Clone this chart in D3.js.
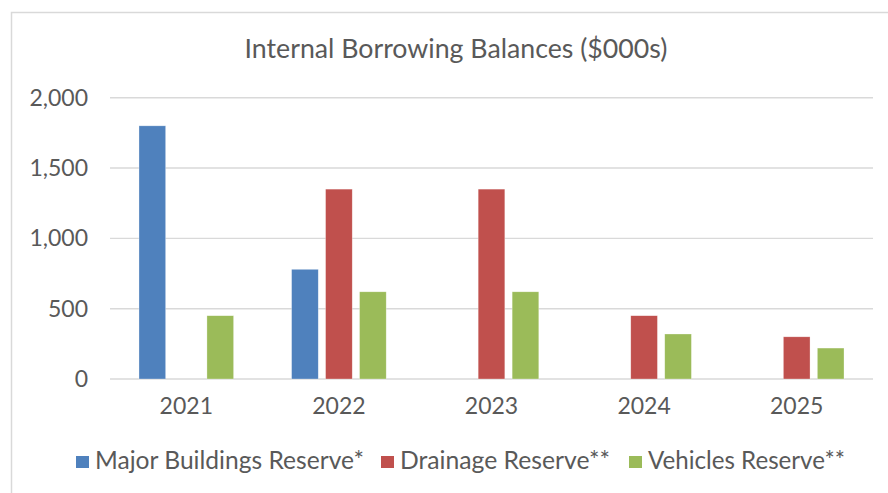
<!DOCTYPE html>
<html>
<head>
<meta charset="utf-8">
<script src="https://cdn.jsdelivr.net/npm/d3@7"></script>
<style>
  html, body { margin: 0; padding: 0; background: #fff; }
  svg { display: block; font-family: Lato, "Open Sans", sans-serif; }
</style>
</head>
<body>
<svg id="chart" width="888" height="493"></svg>
<script>
// Internal borrowing balances by year, in thousands of dollars
const years = ["2021", "2022", "2023", "2024", "2025"];
const seriesNames = ["Major Buildings Reserve*", "Drainage Reserve**", "Vehicles Reserve**"];
const majorBuildings = [1800, 780, 0, 0, 0];
const drainage = [0, 1350, 1350, 450, 300];
const vehicles = [450, 620, 620, 320, 220];
const yTicks = [0, 500, 1000, 1500, 2000];
const seriesColors = ["#4f81bd", "#c0504d", "#9bbb59"];

const seriesValues = [majorBuildings, drainage, vehicles];
const textColor = "#595959";
const gridColor = "#d9d9d9";

const svg = d3.select("#chart");

// Outer chart frame (extends past the right and bottom edges)
svg.append("rect")
  .attr("x", 11.5).attr("y", 12.5)
  .attr("width", 1000).attr("height", 1000)
  .attr("fill", "none").attr("stroke", gridColor).attr("stroke-width", 1.5);

const plot = { left: 110, right: 873, top: 97.7, bottom: 379 };

const x0 = d3.scaleBand().domain(years).range([plot.left, plot.right]).padding(0);
const y = d3.scaleLinear().domain([0, 2000]).range([plot.bottom, plot.top]);

// Bars in a group: width ~17.5% of the category band, gap between them
const groupWidth = x0.bandwidth() * 0.62;
const x1 = d3.scaleBand().domain(seriesNames).range([0, groupWidth]).paddingInner(0.215).paddingOuter(0);

// Gridlines
svg.append("g")
  .selectAll("line")
  .data(yTicks)
  .join("line")
  .attr("x1", plot.left).attr("x2", plot.right)
  .attr("y1", d => y(d)).attr("y2", d => y(d))
  .attr("stroke", gridColor).attr("stroke-width", 1.4);

// Y axis labels
const yAxis = d3.axisLeft(y).tickValues(yTicks).tickFormat(d3.format(",")).tickSize(0).tickPadding(0);
const yg = svg.append("g").attr("transform", `translate(88,0)`).call(yAxis);
yg.select(".domain").remove();
yg.selectAll("text").attr("fill", textColor).attr("font-size", 23).attr("font-family", "Lato, sans-serif");

// X axis labels
const xAxis = d3.axisBottom(x0).tickSize(0).tickPadding(0);
const xg = svg.append("g").attr("transform", `translate(0,${plot.bottom + 19})`).call(xAxis);
xg.select(".domain").remove();
xg.selectAll("text").attr("fill", textColor).attr("font-size", 23).attr("font-family", "Lato, sans-serif").attr("dy", "0.71em");

// Bars
const barData = [];
years.forEach((yr, i) => {
  seriesNames.forEach((s, j) => {
    barData.push({ year: yr, series: s, value: seriesValues[j][i], color: seriesColors[j] });
  });
});

svg.append("g")
  .selectAll("rect")
  .data(barData.filter(d => d.value > 0))
  .join("rect")
  .attr("x", d => x0(d.year) + (x0.bandwidth() - groupWidth) / 2 + x1(d.series))
  .attr("y", d => y(d.value))
  .attr("width", x1.bandwidth())
  .attr("height", d => y(0) - y(d.value))
  .attr("fill", d => d.color)
  .attr("stroke", "#ffffff").attr("stroke-opacity", 0.5).attr("stroke-width", 0.6);

// Title, fitted to its width
const title = svg.append("text")
  .attr("x", 456).attr("y", 58)
  .attr("text-anchor", "middle")
  .attr("fill", textColor)
  .attr("font-size", 24)
  .text("Internal Borrowing Balances ($000s)");
{
  const w = title.node().getComputedTextLength();
  title.attr("font-size", 24 * 423 / w);
}

// Legend
const legendTargetWidths = [269, 210, 197];
const legendStarts = [76, 381, 629];
const legend = svg.append("g");
seriesNames.forEach((s, j) => {
  const g = legend.append("g").attr("transform", `translate(${legendStarts[j]},0)`);
  g.append("rect").attr("x", 0).attr("y", 456).attr("width", 13).attr("height", 12).attr("fill", seriesColors[j]);
  const t = g.append("text").attr("x", 19).attr("y", 469)
    .attr("fill", textColor).attr("font-size", 21).text(s);
  const w = t.node().getComputedTextLength();
  t.attr("font-size", 21 * legendTargetWidths[j] / w);
});
</script>
</body>
</html>
